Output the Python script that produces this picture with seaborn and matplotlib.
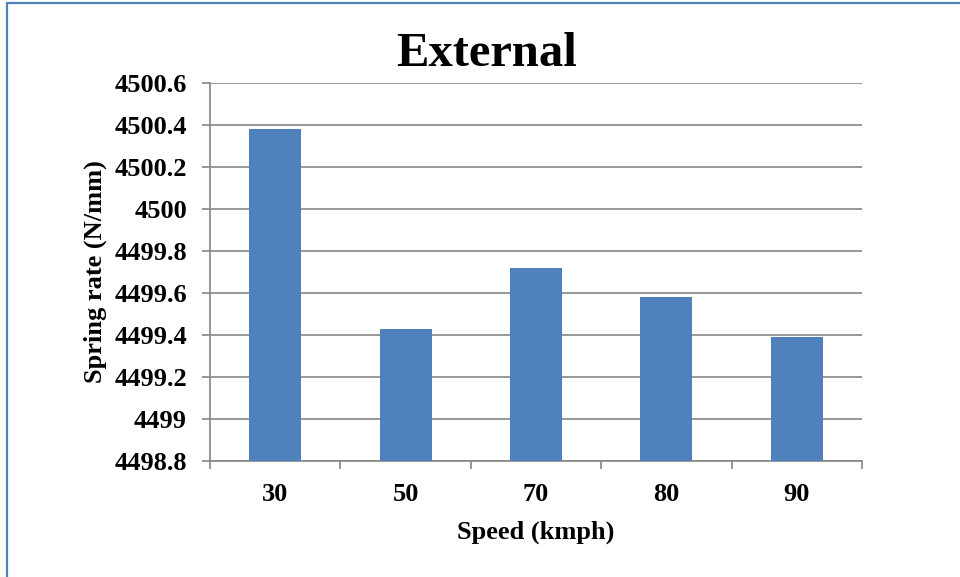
import matplotlib
matplotlib.use("Agg")
import matplotlib.pyplot as plt
import seaborn as sns
import pandas as pd
import numpy as np
from matplotlib.ticker import FixedLocator, FuncFormatter
from matplotlib.lines import Line2D

speeds = ["30", "50", "70", "80", "90"]
spring_rate = [4500.38, 4499.43, 4499.72, 4499.58, 4499.39]
yticks = [4498.8, 4499.0, 4499.2, 4499.4, 4499.6, 4499.8, 4500.0, 4500.2, 4500.4, 4500.6]

df = pd.DataFrame({"Speed": speeds, "Rate": spring_rate})

sns.set_theme(style="white")
plt.rcParams["font.family"] = ["Liberation Serif", "DejaVu Serif"]
plt.rcParams["font.weight"] = "bold"

fig = plt.figure(figsize=(9.6, 5.77), dpi=100)
ax = fig.add_axes([210/960, 1-461/577, (862-210)/960, (461-83)/577])

sns.barplot(data=df, x="Speed", y="Rate", order=speeds, color="#4F81BD",
            width=0.4, ax=ax, zorder=3, saturation=1)
for p in ax.patches:
    p.set_edgecolor("none")

ax.set_ylim(4498.8, 4500.6)
ax.set_xlim(-0.5, len(speeds) - 0.5)
ax.yaxis.set_major_locator(FixedLocator(yticks))
ax.yaxis.set_major_formatter(FuncFormatter(lambda v, p: f"{round(v, 1):g}"))
ax.grid(axis="y", color="#868686", linewidth=1.2, zorder=0)
ax.set_axisbelow(True)

for s in ["top", "right"]:
    ax.spines[s].set_visible(False)
for s in ["left", "bottom"]:
    ax.spines[s].set_color("#868686")
    ax.spines[s].set_linewidth(1.2)

ax.tick_params(axis="y", which="major", length=6, width=1.2, color="#868686",
               direction="out", labelsize=19, pad=10.5, left=True)
ax.tick_params(axis="x", which="major", length=0, labelsize=19, pad=16)
ax.xaxis.set_minor_locator(FixedLocator(np.arange(-0.5, len(speeds), 1.0)))
ax.tick_params(axis="x", which="minor", length=6, width=1.2, color="#868686",
               direction="out", bottom=True)
for lab in ax.get_xticklabels() + ax.get_yticklabels():
    lab.set_fontweight("bold")
    lab.set_color("black")

ax.set_xlabel("Speed (kmph)", fontsize=19, fontweight="bold", labelpad=10, color="black")
ax.set_ylabel("Spring rate (N/mm)", fontsize=19, fontweight="bold", labelpad=5, color="black")
fig.text(487/960, 1-54/577, "External", ha="center", va="center",
         fontsize=35, fontweight="bold", color="black")

# figure border (left and top)
fig.add_artist(Line2D([6.5/960, 6.5/960], [0, 1-2.5/577], transform=fig.transFigure,
                      color="#4F81BD", linewidth=1.6))
fig.add_artist(Line2D([6.5/960, 1], [1-2.5/577, 1-2.5/577], transform=fig.transFigure,
                      color="#4F81BD", linewidth=1.6))

fig.savefig("out.png", dpi=100)
